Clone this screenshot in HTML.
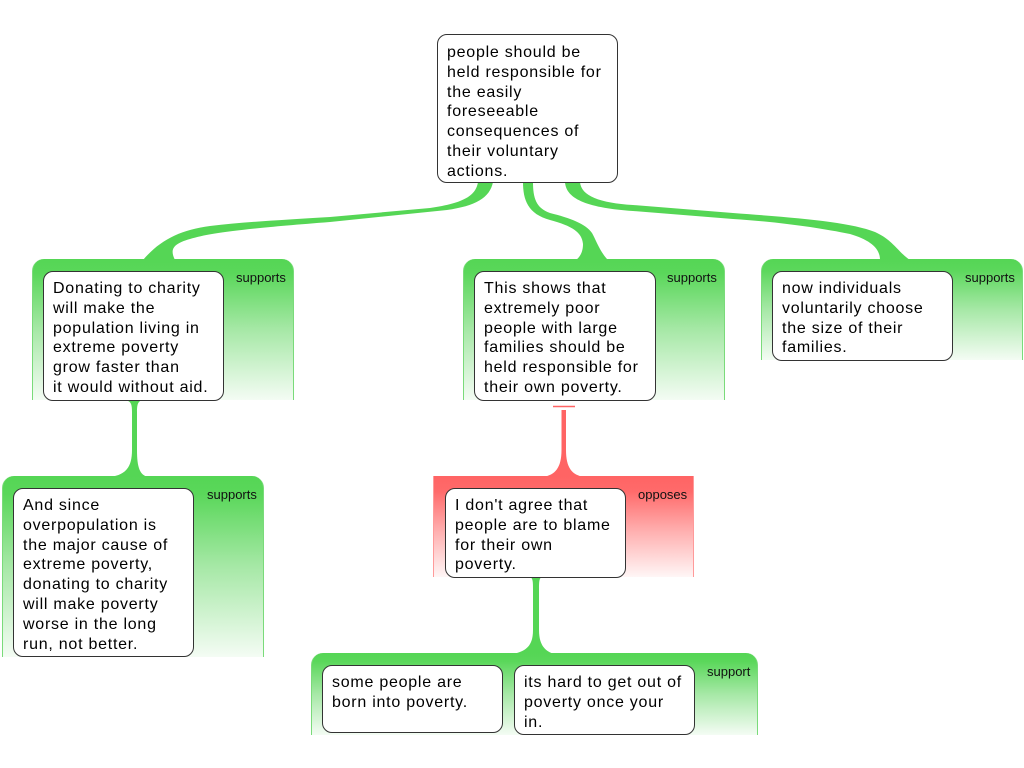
<!DOCTYPE html>
<html><head><meta charset="utf-8"><style>
html,body{margin:0;padding:0;background:#fff;width:1024px;height:768px;overflow:hidden;position:relative;font-family:"Liberation Sans",sans-serif;}
svg{position:absolute;left:0;top:0;z-index:0}
.p{position:absolute;box-sizing:border-box;z-index:1;border-left:1.5px solid #7adb7a;border-right:1.5px solid #7adb7a;border-radius:12px 12px 0 0;
background:linear-gradient(to bottom,#55d655 0%,#5ad75a 10%,#a6e8a6 50%,#f4fcf4 100%);}
.r{border-radius:0;border-left:1.5px solid #ff9a9a;border-right:1.5px solid #ff9a9a;
background:linear-gradient(to bottom,#ff6464 0%,#ff6a6a 15%,#ffb0b0 55%,#fff6f6 100%);}
.b{position:absolute;box-sizing:border-box;z-index:2;background:#fff;border:1px solid #333;border-radius:10px;padding:7px 0 0 9px;
font-size:16px;line-height:19.8px;letter-spacing:0.75px;color:#000;white-space:nowrap;}
.l{position:absolute;z-index:2;font-size:13px;line-height:14px;color:#111;white-space:nowrap;}
</style></head><body>
<svg width="1024" height="768" viewBox="0 0 1024 768">
<g fill="#55d655">
<!-- connector 1 -->
<path d="M478,182 C476,195 465,203 430,208 L330,217 C280,220 245,222 210,226 C180,230 160,240 143,260 L175,260 C170,250 172,244 190,239 C210,233 240,229 330,222 L447,210 C475,206 490,198 493,182 Z"/>
<!-- connector 2 -->
<path d="M523,182 C523,200 528,214 550,220 C572,226 582,232 583,244 C583,252 580,257 576,260 L608,260 C600,252 596,240 592,233 C586,224 570,218 550,213 C536,208 533,198 533,182 Z"/>
<!-- connector 3 -->
<path d="M580,182 C581,196 600,203 633,205 L733,213 C800,218 850,222 875,232 C893,240 898,252 910,260 L880,260 C880,248 870,240 850,234 C820,228 780,222 733,219 L633,211 C590,208 566,200 565,182 Z"/>
<!-- connector 4 -->
<path d="M125,400 C131,401 132,404 132,412 L132,450 C132,468 125,475 110,477 L148,477 C140,475 137,468 137,450 L137,412 C137,404 138,401 143,400 Z"/>
<!-- connector 6 -->
<path d="M530,577 C533,578 533,582 533,590 L533,630 C533,645 527,651 513,654 L554,654 C545,651 539,645 539,630 L539,590 C539,582 539,578 542,577 Z"/>
</g>
<path d="M561.5,410 L561.5,450 C561.5,468 555,475 543,477 L584,477 C572,475 566,468 566,450 L566,410 Z" fill="#ff6464"/>
<path d="M553,406.5 L575,406.5" stroke="#ff6464" stroke-width="1.5" fill="none"/>
</svg>

<!-- top node -->
<div class="b" style="left:437px;top:34px;width:181px;height:149px;padding-top:8px;">people should be<br>held responsible for<br>the easily<br>foreseeable<br>consequences of<br>their voluntary<br>actions.</div>

<!-- panel 1 -->
<div class="p" style="left:32px;top:259px;width:262px;height:141px;"></div>
<div class="l" style="left:236px;top:271px;">supports</div>
<div class="b" style="left:43px;top:271px;width:181px;height:130px;">Donating to charity<br>will make the<br>population living in<br>extreme poverty<br>grow faster than<br>it would without aid.</div>

<!-- panel 2 -->
<div class="p" style="left:463px;top:259px;width:262px;height:141px;"></div>
<div class="l" style="left:667px;top:271px;">supports</div>
<div class="b" style="left:474px;top:271px;width:182px;height:130px;">This shows that<br>extremely poor<br>people with large<br>families should be<br>held responsible for<br>their own poverty.</div>

<!-- panel 3 -->
<div class="p" style="left:761px;top:259px;width:262px;height:101px;"></div>
<div class="l" style="left:965px;top:271px;">supports</div>
<div class="b" style="left:772px;top:271px;width:181px;height:90px;">now individuals<br>voluntarily choose<br>the size of their<br>families.</div>

<!-- panel 4 -->
<div class="p" style="left:2px;top:476px;width:262px;height:181px;"></div>
<div class="l" style="left:207px;top:488px;">supports</div>
<div class="b" style="left:13px;top:488px;width:181px;height:169px;">And since<br>overpopulation is<br>the major cause of<br>extreme poverty,<br>donating to charity<br>will make poverty<br>worse in the long<br>run, not better.</div>

<!-- panel 5 (red) -->
<div class="p r" style="left:433px;top:476px;width:261px;height:101px;"></div>
<div class="l" style="left:638px;top:488px;">opposes</div>
<div class="b" style="left:445px;top:488px;width:181px;height:90px;">I don't agree that<br>people are to blame<br>for their own<br>poverty.</div>

<!-- panel 6 -->
<div class="p" style="left:311px;top:653px;width:447px;height:82px;"></div>
<div class="l" style="left:707px;top:665px;">support</div>
<div class="b" style="left:322px;top:665px;width:181px;height:68px;">some people are<br>born into poverty.</div>
<div class="b" style="left:514px;top:665px;width:181px;height:70px;">its hard to get out of<br>poverty once your<br>in.</div>
</body></html>
